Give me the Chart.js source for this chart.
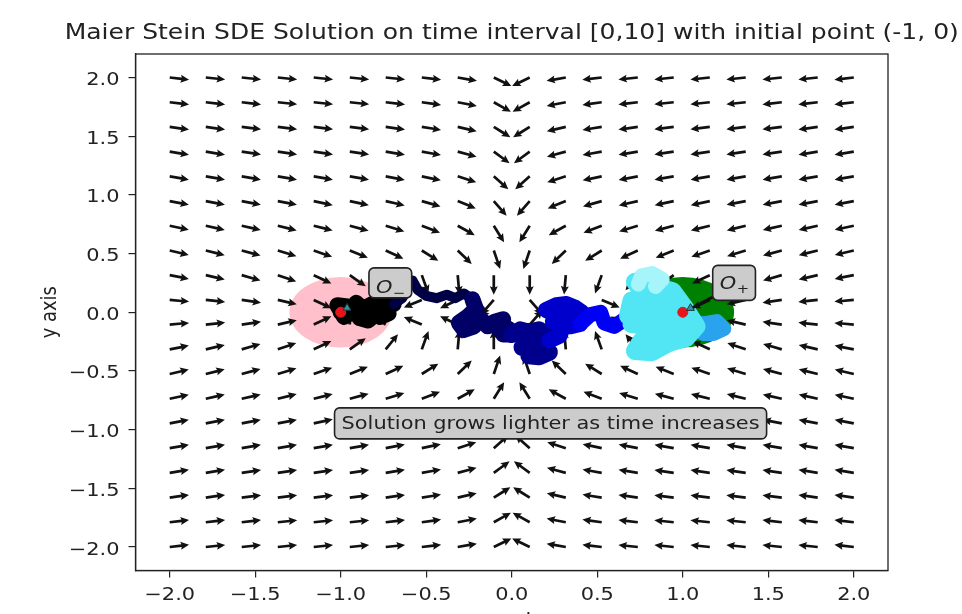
<!DOCTYPE html>
<html>
<head>
<meta charset="utf-8">
<script src="https://cdn.jsdelivr.net/npm/chart.js@4.4.1/dist/chart.umd.min.js"></script>
<style>
  html, body { margin: 0; padding: 0; background: #fff; }
  #wrap { width: 962px; height: 614px; position: relative; }
</style>
</head>
<body>
<div id="wrap"><canvas id="chart"></canvas></div>
<script>
// Quiver grid (20 x 20) and arrow directions in degrees, rows from y=2 down to y=-2
const GRID_X = [-2.0, -1.789, -1.579, -1.368, -1.158, -0.947, -0.737, -0.526, -0.316, -0.105,
                0.105, 0.316, 0.526, 0.737, 0.947, 1.158, 1.368, 1.579, 1.789, 2.0];
const GRID_Y = [2.0, 1.789, 1.579, 1.368, 1.158, 0.947, 0.737, 0.526, 0.316, 0.105,
                -0.105, -0.316, -0.526, -0.737, -0.947, -1.158, -1.368, -1.579, -1.789, -2.0];
const ARROW_ANGLES = [
  [-7, -6, -6, -6, -6, -6, -6, -7, -10, -26, -154, -170, -173, -174, -174, -174, -174, -174, -174, -173],
  [-7, -7, -7, -6, -6, -6, -7, -8, -11, -29, -151, -169, -172, -173, -174, -174, -174, -173, -173, -173],
  [-8, -8, -7, -7, -7, -7, -8, -9, -13, -32, -148, -167, -171, -172, -173, -173, -173, -173, -172, -172],
  [-9, -9, -8, -8, -8, -8, -9, -10, -15, -36, -144, -165, -170, -171, -172, -172, -172, -172, -171, -171],
  [-10, -10, -10, -10, -10, -10, -11, -12, -18, -42, -138, -162, -168, -169, -170, -170, -170, -170, -170, -170],
  [-11, -11, -11, -11, -12, -12, -13, -16, -22, -49, -131, -158, -164, -167, -168, -168, -169, -169, -169, -169],
  [-12, -13, -13, -14, -14, -15, -17, -21, -29, -58, -122, -151, -159, -163, -165, -166, -166, -167, -167, -168],
  [-13, -14, -15, -17, -19, -22, -25, -32, -44, -71, -109, -136, -148, -155, -158, -161, -163, -165, -166, -167],
  [-11, -13, -16, -19, -25, -35, -51, -70, -85, -90, -90, -95, -110, -129, -145, -155, -161, -164, -167, -169],
  [-5, -6, -8, -13, -25, -88, -147, -157, -155, -131, -49, -25, -23, -33, -92, -155, -167, -172, -174, -175],
  [5, 6, 8, 13, 25, 88, 147, 157, 155, 131, 49, 25, 23, 33, 92, 155, 167, 172, 174, 175],
  [11, 13, 16, 19, 25, 35, 51, 70, 85, 90, 90, 95, 110, 129, 145, 155, 161, 164, 167, 169],
  [13, 14, 15, 17, 19, 22, 25, 32, 44, 71, 109, 136, 148, 155, 158, 161, 163, 165, 166, 167],
  [12, 13, 13, 14, 14, 15, 17, 21, 29, 58, 122, 151, 159, 163, 165, 166, 166, 167, 167, 168],
  [11, 11, 11, 11, 12, 12, 13, 16, 22, 49, 131, 158, 164, 167, 168, 168, 169, 169, 169, 169],
  [10, 10, 10, 10, 10, 10, 11, 12, 18, 42, 138, 162, 168, 169, 170, 170, 170, 170, 170, 170],
  [9, 9, 8, 8, 8, 8, 9, 10, 15, 36, 144, 165, 170, 171, 172, 172, 172, 172, 171, 171],
  [8, 8, 7, 7, 7, 7, 8, 9, 13, 32, 148, 167, 171, 172, 173, 173, 173, 173, 172, 172],
  [7, 7, 7, 6, 6, 6, 7, 8, 11, 29, 151, 169, 172, 173, 174, 174, 174, 173, 173, 173],
  [7, 6, 6, 6, 6, 6, 6, 7, 10, 26, 154, 170, 173, 174, 174, 174, 174, 174, 174, 173]
];

// SDE path, split by time (dark -> light)
const PATH_T0 = [[-1.00, 0.00], [-0.96, 0.05], [-1.02, 0.06], [-0.98, -0.04], [-0.93, 0.01], [-0.91, 0.08],
                 [-0.87, 0.03], [-0.89, -0.05], [-0.84, -0.07], [-0.80, -0.02], [-0.84, 0.05], [-0.79, 0.09],
                 [-0.75, 0.04], [-0.77, -0.04], [-0.72, -0.01], [-0.74, 0.07], [-0.69, 0.07]];
const PATH_T1 = [[-0.69, 0.07], [-0.64, 0.12], [-0.61, 0.20], [-0.58, 0.27], [-0.55, 0.19], [-0.50, 0.14],
                 [-0.44, 0.12], [-0.38, 0.15], [-0.33, 0.12], [-0.28, 0.16], [-0.23, 0.11]];
const PATH_T2 = [[-0.23, 0.11], [-0.21, 0.03], [-0.26, -0.04], [-0.31, -0.09], [-0.28, -0.15], [-0.22, -0.12],
                 [-0.24, -0.06], [-0.18, -0.06], [-0.14, -0.12], [-0.10, -0.08], [-0.05, -0.06], [-0.08, -0.14],
                 [-0.02, -0.14], [-0.05, -0.19], [0.00, -0.19]];
const PATH_T3 = [[0.00, -0.19], [0.05, -0.15], [0.10, -0.17], [0.16, -0.15], [0.21, -0.20], [0.16, -0.24],
                 [0.10, -0.25], [0.06, -0.30], [0.12, -0.32], [0.18, -0.30], [0.22, -0.34], [0.16, -0.38],
                 [0.10, -0.37], [0.18, -0.26], [0.22, -0.24]];
const PATH_T4 = [[0.22, -0.24], [0.28, -0.20], [0.30, -0.12], [0.24, -0.08], [0.26, -0.02], [0.20, 0.02],
                 [0.26, 0.06], [0.32, 0.07], [0.37, 0.04], [0.41, 0.00], [0.35, -0.02], [0.30, -0.06],
                 [0.34, -0.12], [0.40, -0.10]];
const PATH_T5 = [[0.40, -0.10], [0.46, -0.02], [0.52, 0.00], [0.54, -0.09], [0.60, -0.12], [0.65, -0.07],
                 [0.70, -0.04], [0.74, 0.00]];
const PATH_T6 = [[1.06, -0.08], [1.12, -0.10], [1.20, -0.08], [1.24, -0.14], [1.18, -0.18], [1.12, -0.18],
                 [1.16, -0.12]];
const PATH_T7 = [[0.74, 0.00], [0.68, -0.03], [0.70, 0.10], [0.80, 0.08], [0.90, 0.12], [0.96, 0.04],
                 [0.88, 0.02], [0.78, -0.02], [0.70, -0.10], [0.82, -0.12], [0.94, -0.08], [1.04, -0.06],
                 [0.98, -0.16], [0.86, -0.20], [0.76, -0.24], [0.72, -0.33], [0.82, -0.34], [0.92, -0.26],
                 [1.02, -0.22], [1.08, -0.12], [1.02, 0.02], [0.94, 0.18], [0.84, 0.22], [0.76, 0.18],
                 [0.72, 0.26]];
const PATH_T8 = [[0.74, 0.24], [0.76, 0.31], [0.82, 0.33], [0.88, 0.28], [0.84, 0.22]];

const PATHS = [PATH_T0, PATH_T1, PATH_T2, PATH_T3, PATH_T4, PATH_T5, PATH_T6, PATH_T7, PATH_T8];
const PATH_COLORS = ['#000000', '#000046', '#000066', '#00008c', '#0000cc', '#0000f5', '#2aa3ef', '#52e6f4', '#a6f5fb'];
const PATH_WIDTHS = [16, 10, 16, 17, 16, 15, 15, 18, 15];

// stable points and the circles around them
const STABLE_POINTS = [[-1, 0], [1, 0]];
const CIRCLE_RADIUS = 0.3;
const CIRCLE_COLORS = ['#ffc0cb', '#008000'];
const MARKER_POINTS = [[-0.963, 0.037], [1.045, 0.035]];
const POINTER_LINE = [[1.175, 0.13], [1.05, 0.033]];

const TICKS = [-2.0, -1.5, -1.0, -0.5, 0.0, 0.5, 1.0, 1.5, 2.0];
const TICK_LABELS = ['\u22122.0', '\u22121.5', '\u22121.0', '\u22120.5', '0.0', '0.5', '1.0', '1.5', '2.0'];

const TITLE = 'Maier Stein SDE Solution on time interval [0,10] with initial point (-1, 0)';
const LABELS = [{ main: 'O', sub: '\u2212', x: -0.71, y: 0.25 }, { main: 'O', sub: '+', x: 1.30, y: 0.25 }];
const NOTE = { text: 'Solution grows lighter as time increases', x: 0.227, y: -0.947 };

// the picture is stretched a bit wider than tall
const SX = 1.175;
const FONT = "'DejaVu Sans', sans-serif";

function drawText(ctx, str, x, y, size, align, style) {
    ctx.save();
    ctx.translate(x, y);
    ctx.scale(SX, 1);
    ctx.font = (style || '') + ' ' + size + 'px ' + FONT;
    ctx.textAlign = align;
    ctx.textBaseline = 'alphabetic';
    ctx.fillText(str, 0, 0);
    ctx.restore();
}

function textWidth(ctx, str, size, style) {
    ctx.save();
    ctx.font = (style || '') + ' ' + size + 'px ' + FONT;
    const w = ctx.measureText(str).width * SX;
    ctx.restore();
    return w;
}

function roundBox(ctx, x, y, w, h, r) {
    ctx.beginPath();
    ctx.moveTo(x + r, y);
    ctx.arcTo(x + w, y, x + w, y + h, r);
    ctx.arcTo(x + w, y + h, x, y + h, r);
    ctx.arcTo(x, y + h, x, y, r);
    ctx.arcTo(x, y, x + w, y, r);
    ctx.closePath();
    ctx.fillStyle = '#cccccc';
    ctx.fill();
    ctx.lineWidth = 1.6;
    ctx.strokeStyle = '#222';
    ctx.stroke();
}

function drawArrow(ctx, px, py, deg) {
    const L = 19.5, w = 1.35, hl = 8.5, hal = 7.5, hw = 4.0;
    ctx.save();
    ctx.translate(px, py);
    ctx.rotate(-deg * Math.PI / 180);
    ctx.beginPath();
    ctx.moveTo(0, -w);
    ctx.lineTo(L - hal, -w);
    ctx.lineTo(L - hl, -hw);
    ctx.lineTo(L, 0);
    ctx.lineTo(L - hl, hw);
    ctx.lineTo(L - hal, w);
    ctx.lineTo(0, w);
    ctx.closePath();
    ctx.fill();
    ctx.restore();
}

// circles + quiver field under the path
const backdrop = {
    id: 'backdrop',
    beforeDatasetsDraw(chart) {
        const { ctx, scales: { x, y } } = chart;
        ctx.save();
        STABLE_POINTS.forEach((p, k) => {
            const cx = x.getPixelForValue(p[0]);
            const cy = y.getPixelForValue(p[1]);
            const rx = x.getPixelForValue(p[0] + CIRCLE_RADIUS) - cx;
            const ry = cy - y.getPixelForValue(p[1] + CIRCLE_RADIUS);
            ctx.beginPath();
            ctx.ellipse(cx, cy, rx, ry, 0, 0, 2 * Math.PI);
            ctx.fillStyle = CIRCLE_COLORS[k];
            ctx.fill();
        });
        ctx.fillStyle = '#111';
        GRID_Y.forEach((gy, j) => {
            GRID_X.forEach((gx, i) => {
                drawArrow(ctx, x.getPixelForValue(gx), y.getPixelForValue(gy), ARROW_ANGLES[j][i]);
            });
        });
        ctx.restore();
    }
};

// frame, tick labels, titles and text boxes
const decorations = {
    id: 'decorations',
    afterDraw(chart) {
        const { ctx, chartArea: a, scales: { x, y } } = chart;
        ctx.save();
        ctx.strokeStyle = '#222';
        ctx.lineWidth = 1.3;
        ctx.strokeRect(a.left, a.top, a.right - a.left, a.bottom - a.top);

        ctx.fillStyle = '#222';
        TICKS.forEach((v, k) => {
            drawText(ctx, TICK_LABELS[k], x.getPixelForValue(v), 600, 17.8, 'center');
            drawText(ctx, TICK_LABELS[k], 119.5, y.getPixelForValue(v) + 7.5, 17.8, 'right');
        });

        drawText(ctx, TITLE, (a.left + a.right) / 2, 39, 21.3, 'center');
        drawText(ctx, 'x axis', (a.left + a.right) / 2, 626, 17.8, 'center');

        ctx.save();
        ctx.translate(56, (a.top + a.bottom) / 2);
        ctx.scale(SX, 1);
        ctx.rotate(-Math.PI / 2);
        ctx.font = '17.8px ' + FONT;
        ctx.textAlign = 'center';
        ctx.fillText('y axis', 0, 0);
        ctx.restore();

        // O- and O+ labels
        LABELS.forEach(lab => {
            const cx = x.getPixelForValue(lab.x);
            const cy = y.getPixelForValue(lab.y);
            const w1 = textWidth(ctx, lab.main, 17.8, 'italic');
            const w2 = textWidth(ctx, lab.sub, 12.5);
            const bw = w1 + w2 + 14;
            const bh = lab.sub === '+' ? 35 : 30;
            roundBox(ctx, cx - bw / 2, cy - bh / 2, bw, bh, 5);
            ctx.fillStyle = '#222';
            const base = cy + (lab.sub === '+' ? 6 : 10);
            drawText(ctx, lab.main, cx - bw / 2 + 7, base, 17.8, 'left', 'italic');
            drawText(ctx, lab.sub, cx - bw / 2 + 7 + w1 + 0.5, base + 4, 12.5, 'left');
        });

        // note box
        const nx = x.getPixelForValue(NOTE.x);
        const ny = y.getPixelForValue(NOTE.y);
        const nw = textWidth(ctx, NOTE.text, 17.8) + 14;
        roundBox(ctx, nx - nw / 2, ny - 15.5, nw, 31, 5);
        ctx.fillStyle = '#222';
        drawText(ctx, NOTE.text, nx, ny + 6, 17.8, 'center');
        ctx.restore();
    }
};

const toXY = pts => pts.map(p => ({ x: p[0], y: p[1] }));

const datasets = PATHS.map((seg, k) => ({
    data: toXY(seg),
    showLine: true,
    borderColor: PATH_COLORS[k],
    borderWidth: PATH_WIDTHS[k],
    borderJoinStyle: 'round',
    borderCapStyle: 'round',
    pointRadius: 0,
    tension: 0,
    fill: false,
    order: 20 - k
}));

datasets.push({
    data: toXY(POINTER_LINE),
    showLine: true,
    borderColor: '#111',
    borderWidth: 3,
    pointRadius: 0,
    order: 3
});
datasets.push({
    data: toXY(STABLE_POINTS),
    showLine: false,
    pointStyle: 'circle',
    pointRadius: 5,
    backgroundColor: '#e8141c',
    borderColor: '#e8141c',
    order: 2
});
datasets.push({
    data: toXY(MARKER_POINTS),
    showLine: false,
    pointStyle: 'triangle',
    pointRadius: 4.5,
    backgroundColor: '#3a8f9a',
    borderColor: '#143c44',
    borderWidth: 1,
    order: 1
});

const axisCommon = {
    type: 'linear',
    min: -2.2,
    max: 2.2,
    afterBuildTicks: s => { s.ticks = TICKS.map(v => ({ value: v })); },
    grid: { drawOnChartArea: false, drawTicks: true, tickLength: 7, color: '#222', lineWidth: 1.2 },
    border: { display: true, color: '#222', width: 1.3 },
    ticks: { display: false }
};

new Chart(document.getElementById('chart'), {
    type: 'scatter',
    data: { datasets },
    options: {
        responsive: true,
        maintainAspectRatio: false,
        devicePixelRatio: 1,
        animation: false,
        layout: { padding: { top: 54, right: 74, left: 0, bottom: 0 } },
        plugins: { legend: { display: false }, tooltip: { enabled: false } },
        scales: {
            x: Object.assign({}, axisCommon, { position: 'bottom', afterFit: s => { s.height = 43.5; } }),
            y: Object.assign({}, axisCommon, { position: 'left', afterFit: s => { s.width = 135.5; } })
        }
    },
    plugins: [backdrop, decorations]
});
</script>
</body>
</html>
